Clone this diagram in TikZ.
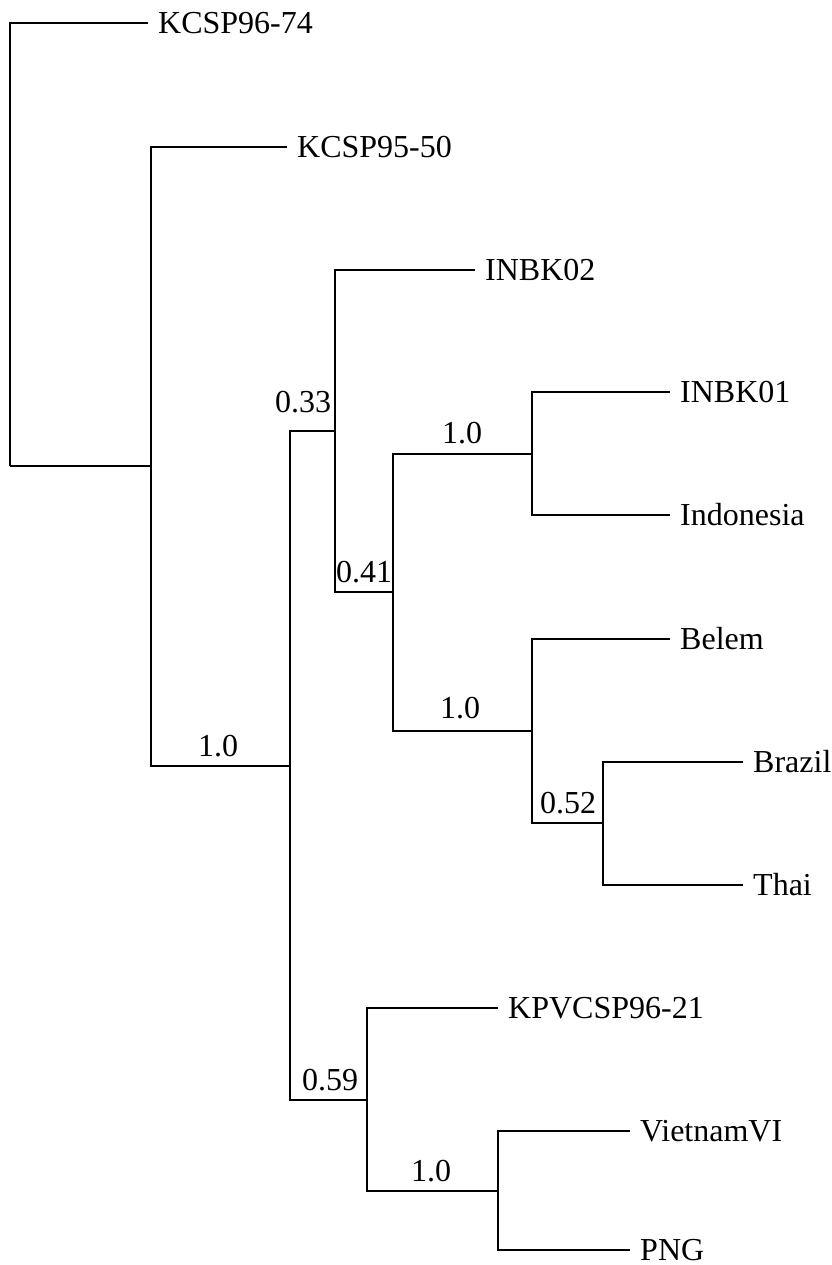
\documentclass[tikz,border=0pt]{standalone}
\usepackage{fontspec}
\setmainfont{Liberation Serif}
\begin{document}
\begin{tikzpicture}[x=1pt,y=-1pt,
  branch/.style={draw=black, line width=1.7pt},
  leaf/.style={anchor=west, inner xsep=10pt, inner ysep=0pt, text height=21pt, text depth=0pt, font=\fontsize{32}{38}\selectfont},
  support/.style={anchor=base, inner sep=0pt, font=\fontsize{32}{38}\selectfont}]
\useasboundingbox (0,0) rectangle (831,1265);
% internal nodes
\coordinate (R) at (10,466);
\coordinate (A) at (151,466);
\coordinate (B) at (290,766);
\coordinate (C) at (335,431);
\coordinate (D) at (393,592);
\coordinate (E) at (532,454);
\coordinate (F) at (532,731);
\coordinate (G) at (603,823);
\coordinate (H) at (367,1100);
\coordinate (I) at (498,1191);
% leaves
\node[leaf] (l1) at (148,23) {KCSP96-74};
\node[leaf] (l2) at (287,147) {KCSP95-50};
\node[leaf] (l3) at (475,270) {INBK02};
\node[leaf] (l4) at (670,392) {INBK01};
\node[leaf] (l5) at (670,515) {Indonesia};
\node[leaf] (l6) at (670,639) {Belem};
\node[leaf] (l7) at (743,762) {Brazil};
\node[leaf] (l8) at (743,885) {Thai};
\node[leaf] (l9) at (498,1008) {KPVCSP96-21};
\node[leaf] (l10) at (630,1131) {VietnamVI};
\node[leaf] (l11) at (630,1250) {PNG};
% branches
\draw[branch] (R) |- (l1.west);
\draw[branch] (R) -- (A);
\draw[branch] (A) |- (l2.west);
\draw[branch] (A) |- (B);
\draw[branch] (B) |- (C);
\draw[branch] (B) |- (H);
\draw[branch] (C) |- (l3.west);
\draw[branch] (C) |- (D);
\draw[branch] (D) |- (E);
\draw[branch] (D) |- (F);
\draw[branch] (E) |- (l4.west);
\draw[branch] (E) |- (l5.west);
\draw[branch] (F) |- (l6.west);
\draw[branch] (F) |- (G);
\draw[branch] (G) |- (l7.west);
\draw[branch] (G) |- (l8.west);
\draw[branch] (H) |- (l9.west);
\draw[branch] (H) |- (I);
\draw[branch] (I) |- (l10.west);
\draw[branch] (I) |- (l11.west);
% support values
\node[support] (sB) at (218,756) {1.0};
\node[support] (sC) at (303,412) {0.33};
\node[support] (sD) at (364,582) {0.41};
\node[support] (sE) at (462,443) {1.0};
\node[support] (sF) at (460,718) {1.0};
\node[support] (sG) at (568,813) {0.52};
\node[support] (sH) at (330,1090) {0.59};
\node[support] (sI) at (431,1181) {1.0};
\end{tikzpicture}
\end{document}
